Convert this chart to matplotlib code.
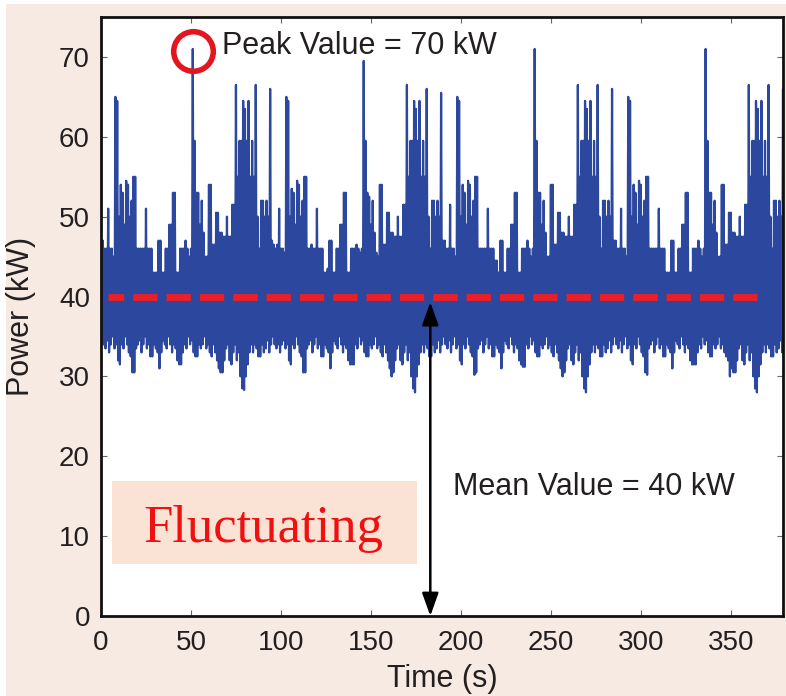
import numpy as np
import matplotlib.pyplot as plt
from matplotlib.patches import Rectangle

plt.rcParams['font.family'] = ['Liberation Sans', 'DejaVu Sans']

# power trace: one high and one low sample per second
time_s = np.arange(380)

upper_kw = [
    47, 47, 46, 46, 51, 46, 46, 45, 65, 64.5,
    50, 54, 53, 49, 54.5, 54, 50, 52, 55, 55,
    46, 46, 46, 46, 46, 51, 46, 46, 46, 43,
    43, 43, 47, 47, 43, 43, 46, 46, 49, 49,
    53, 53, 43, 43, 46, 46, 46, 47, 46, 45,
    46, 71, 59.5, 53, 53, 49, 52, 48, 45, 45,
    54, 54, 46.5, 46.5, 50.5, 50.5, 48, 48, 47.5, 47.5,
    50, 47.5, 47.5, 51.5, 51.5, 66.5, 55, 59.5, 59.5, 64.5,
    63.5, 59.5, 64.5, 55, 59.5, 55, 66.5, 50, 46, 52,
    52, 50, 52, 50, 66, 47, 46.5, 46, 46.5, 51,
    46, 46, 45.5, 65, 64.5, 50, 53.5, 53, 49, 54.5,
    54, 50, 52, 55, 55, 46, 46, 46.5, 46, 46,
    51, 46, 46, 46, 43, 43, 43.5, 47, 47, 43,
    43, 46, 46, 49, 49, 53, 53, 43, 43, 46,
    46, 46, 46.5, 46, 45.5, 46, 69.5, 59.5, 53, 52.5,
    49, 52, 48, 45.5, 45, 54, 54, 46.5, 46.5, 50.5,
    50.5, 48, 48, 47.5, 47.5, 50, 47.5, 47.5, 51.5, 51.5,
    66.5, 55, 59.5, 59.5, 64.5, 63.5, 59.5, 64.5, 55, 59.5,
    55, 66, 50, 46, 52, 52, 50, 52, 50, 65.5,
    47, 47, 46, 46, 51.5, 46, 46, 45, 65, 64.5,
    50, 54, 53, 49, 54.5, 54, 50, 52, 55, 55,
    46, 46, 46, 46, 46, 51, 46, 46, 46, 44.5,
    44.5, 43, 47, 47, 43, 43, 46, 46, 49, 49,
    53, 53, 43, 43, 46, 46, 46, 47, 46, 45,
    46, 71, 59.5, 53, 53, 49, 52, 48, 45, 45,
    54, 54, 46.5, 46.5, 50.5, 50.5, 48, 48, 47.5, 47.5,
    50, 47.5, 47.5, 51.5, 51.5, 66.5, 55, 59.5, 59.5, 64.5,
    63.5, 59.5, 64.5, 55, 59.5, 55, 66.5, 50, 46, 52,
    52, 50, 52, 50, 66, 47, 47, 46, 46, 51,
    46, 46, 45, 65, 64.5, 50, 54, 53, 49, 54.5,
    54, 50, 52, 55, 55, 46, 46, 46, 46, 46,
    51, 46, 46, 46, 43, 43, 43, 47, 47, 43,
    43, 46, 46, 49, 49, 53, 53, 43, 43, 46,
    46, 46, 47, 46, 45, 46, 71, 59.5, 53, 53,
    49, 52, 48, 45, 45, 54, 54, 46.5, 46.5, 50.5,
    50.5, 48, 48, 47.5, 47.5, 50, 47.5, 47.5, 51.5, 51.5,
    66.5, 55, 59.5, 59.5, 64.5, 63.5, 59.5, 64.5, 55, 59.5,
    55, 66.5, 50, 46, 52, 52, 50, 52, 50, 66,
]

lower_kw = [
    35, 34, 33.5, 34.5, 33, 34, 35, 33.5, 34, 32,
    31.5, 34, 33.5, 35, 34, 33, 32.5, 30.5, 30.5, 33.5,
    34, 34.5, 33, 34, 35, 33.5, 34, 32.5, 32.5, 34,
    33.5, 33, 31, 33, 34.5, 34, 33.5, 35, 34, 33,
    34, 33.5, 32, 31.5, 31.5, 33, 34, 33.5, 35, 34,
    34.5, 33, 32.5, 32.5, 34, 33.5, 34, 35, 33.5, 34,
    33, 32.5, 34, 33, 32, 31, 30.5, 30.5, 32, 33.5,
    34, 32, 31.5, 33, 34, 32, 33, 30, 28.5, 28.3,
    30, 31.5, 33, 34, 33, 34, 33.5, 32.5, 32.5, 34,
    33, 33.5, 34.5, 33, 34, 35, 34, 33.5, 34, 33,
    34, 34.5, 33.5, 34, 32, 31.5, 34, 33.5, 35, 34,
    33, 32.5, 30.5, 30.5, 33.5, 34, 34.5, 33, 34, 35,
    33.5, 34, 32.5, 32.5, 34, 33.5, 33, 31, 33, 34.5,
    34, 33.5, 35, 34, 33, 34, 33.5, 32, 31.5, 31.5,
    31.5, 34, 33.5, 35, 34, 34.5, 33, 32.5, 32.5, 34,
    33.5, 34, 35, 33.5, 34, 33, 32.5, 34, 33, 32,
    31, 30, 30.5, 32, 33.5, 34, 32, 31.5, 33, 34,
    32, 33, 30, 28.5, 28, 30, 31.5, 33, 34, 33,
    34, 33.5, 32.5, 32.5, 34, 33, 33.5, 34.5, 33, 34,
    35, 34, 33.5, 34.5, 33, 34, 35, 33.5, 34, 32,
    31.5, 34, 33.5, 35, 34, 33, 32.5, 30.2, 30.5, 33.5,
    34, 34.5, 33, 34, 35, 33.5, 34, 32.5, 32.5, 34,
    33.5, 33, 31, 33, 34.5, 34, 33.5, 35, 34, 33,
    34, 33.5, 32, 31.5, 31.2, 31.2, 34, 33.5, 35, 34,
    34.5, 33, 32.5, 32.5, 34, 33.5, 34, 35, 33.5, 34,
    33, 32.5, 34, 33, 32, 31, 30, 30.5, 32, 33.5,
    34, 32, 31.5, 33, 34, 32, 33, 30, 28.5, 28,
    30, 31.5, 33, 34, 33, 34, 33.5, 32.5, 32.5, 34,
    33, 33.5, 34.5, 33, 34, 35, 34, 33.5, 34.5, 33,
    34, 35, 33.5, 34, 32, 31.5, 34, 33.5, 35, 34,
    33, 32.5, 30.5, 30.2, 33.5, 34, 34.5, 33, 34, 35,
    33.5, 34, 32.5, 32.5, 34, 33.5, 33, 31, 33, 34.5,
    34, 33.5, 35, 34, 33, 34, 33.5, 32, 31.5, 31.5,
    31.5, 33, 34, 33.5, 35, 34, 34.5, 33, 32.5, 32.5,
    34, 33.5, 34, 35, 33.5, 34, 33, 32.5, 32, 30,
    31, 30.5, 30.5, 32, 33.5, 34, 32, 31.5, 33, 34,
    32, 33, 30, 28.5, 28, 30, 31.5, 33, 34, 33,
    34, 33.5, 32.5, 32.5, 34, 33, 33.5, 34.5, 33, 34,
]

mean_kw = 40
mean_span_s = [4, 365]
arrow_t = 183
fluct_box = [5.9, 6.5, 175.4, 16.9]  # t0, v0, t1, v1

# interleave high/low samples half a second apart
t = np.column_stack([time_s, time_s + 0.5]).ravel()
p = np.column_stack([upper_kw, lower_kw]).ravel()

BG = '#f6eae2'
fig = plt.figure(figsize=(7.86, 6.96), dpi=100, facecolor='white')
fig.patches.append(Rectangle((6 / 786, 0), 1, 692 / 696, transform=fig.transFigure,
                             facecolor=BG, edgecolor='none', zorder=-10))
ax = fig.add_axes([101 / 786, 80 / 696, 682 / 786, 599 / 696])
ax.set_facecolor('white')

ax.plot(t, p, color='#2c479e', lw=1.6, zorder=2)

# mean line
ax.plot(mean_span_s, [mean_kw, mean_kw], color='#e8202a', lw=5,
        linestyle=(1.24, (3.5, 1.3)), zorder=3)

# peak marker
i_pk = int(np.argmax(upper_kw))
ax.plot(time_s[i_pk] + 0.4, upper_kw[i_pk] - 0.3, marker='o', ms=28.5, mfc='none',
        mec='#e3161e', mew=4, zorder=4, clip_on=False)
ax.text(67.5, 70.4, 'Peak Value = 70 kW', fontsize=22, color='#231f20', va='baseline')

# arrow down from the mean line
ax.annotate('', xy=(arrow_t, 0), xytext=(arrow_t, mean_kw - 0.7),
            arrowprops=dict(arrowstyle='<|-|>,head_length=0.7,head_width=0.25',
                            lw=1.8, color='black', shrinkA=0, shrinkB=0,
                            mutation_scale=20), zorder=5)
ax.text(195.7, 15.1, 'Mean Value = 40 kW', fontsize=22, color='#231f20', va='baseline')

ax.add_patch(Rectangle((fluct_box[0], fluct_box[1]), fluct_box[2] - fluct_box[0],
                       fluct_box[3] - fluct_box[1], facecolor='#fae2d4',
                       edgecolor='none', zorder=3))
ax.text(23.5, 9.3, 'Fluctuating', fontsize=38, color='#f01010', va='baseline',
        family='Liberation Serif', zorder=4)

ax.set_xlim(0, 379)
ax.set_ylim(0, 75)
ax.set_xticks(np.arange(0, 351, 50))
ax.set_yticks(np.arange(0, 71, 10))
ax.tick_params(direction='in', length=4, width=0.8, color='#666666',
               top=True, right=True, labelsize=20, labelcolor='#231f20')
ax.tick_params(axis='x', pad=10)
ax.tick_params(axis='y', pad=8)
for s in ax.spines.values():
    s.set_linewidth(2)
    s.set_color('#111111')

ax.set_xlabel('Time (s)', fontsize=22, color='#231f20')
ax.set_ylabel('Power (kW)', fontsize=22, color='#231f20')
ax.xaxis.set_label_coords(0.5, -0.08)
ax.yaxis.set_label_coords(-0.095, 0.5)

fig.savefig('out.png', dpi=100, facecolor=fig.get_facecolor())
